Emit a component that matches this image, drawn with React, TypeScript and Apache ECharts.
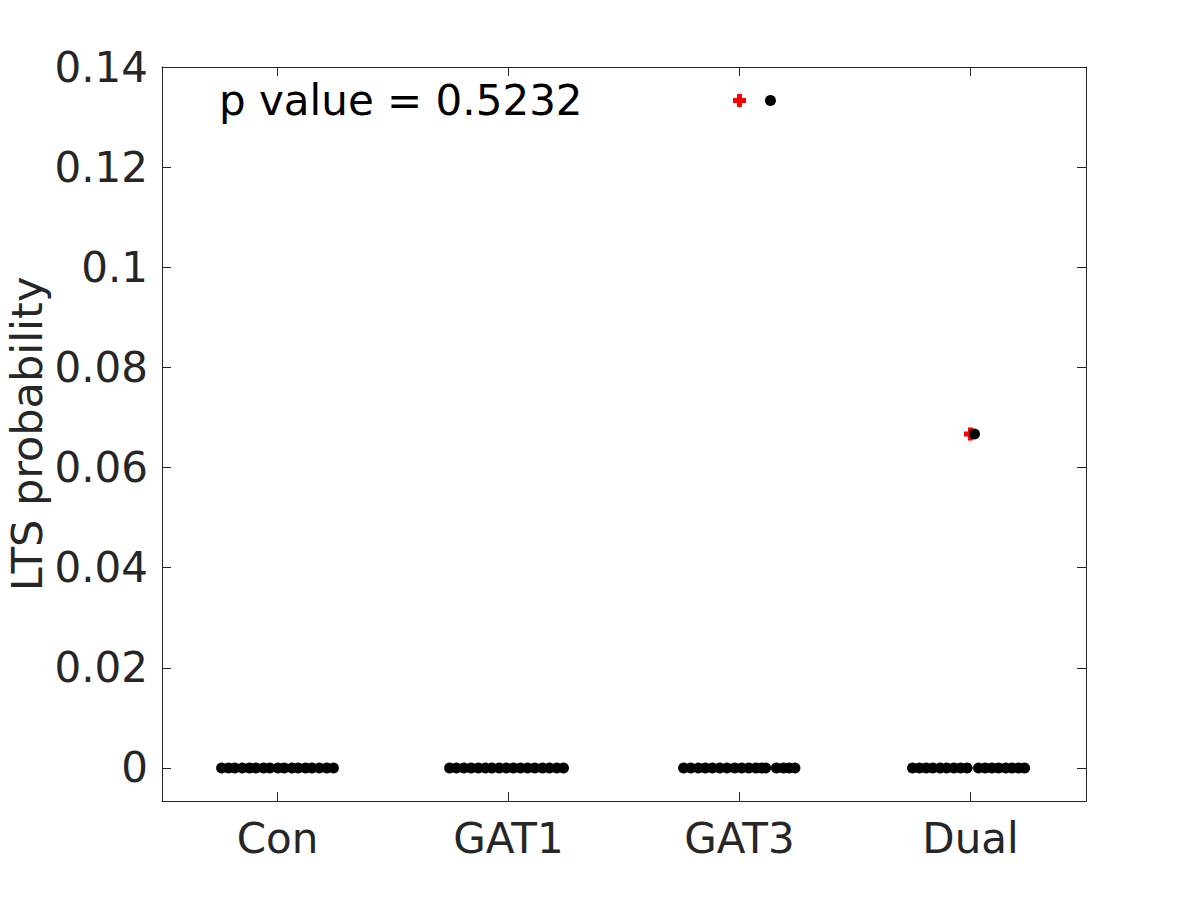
import React, { useEffect, useRef } from "react";
import * as echarts from "echarts";

const categories = ["Con", "GAT1", "GAT3", "Dual"];
const yTicks = [0, 0.02, 0.04, 0.06, 0.08, 0.1, 0.12, 0.14];
const pValueText = "p value = 0.5232";
const yAxisTitle = "LTS probability";

// jitter offsets (in category units) and values for each group
const conJitter = [-0.242, -0.212, -0.185, -0.152, -0.121, -0.094, -0.061, -0.033, 0.002, 0.029, 0.063, 0.09, 0.122, 0.149, 0.181, 0.213, 0.242];
const conValues = [0, 0, 0, 0, 0, 0, 0, 0, 0, 0, 0, 0, 0, 0, 0, 0, 0];
const gat1Jitter = [-0.255, -0.225, -0.193, -0.162, -0.131, -0.1, -0.072, -0.04, -0.009, 0.021, 0.052, 0.083, 0.114, 0.147, 0.177, 0.209, 0.238];
const gat1Values = [0, 0, 0, 0, 0, 0, 0, 0, 0, 0, 0, 0, 0, 0, 0, 0, 0];
const gat3Jitter = [-0.242, -0.211, -0.178, -0.148, -0.117, -0.085, -0.054, -0.021, 0.009, 0.04, 0.071, 0.096, 0.113, 0.134, 0.16, 0.19, 0.215, 0.24];
const gat3Values = [0, 0, 0, 0, 0, 0, 0, 0, 0, 0, 0, 0, 0, 0.1333, 0, 0, 0, 0];
const dualJitter = [-0.251, -0.221, -0.192, -0.163, -0.131, -0.103, -0.072, -0.043, -0.015, 0.017, 0.035, 0.064, 0.093, 0.121, 0.152, 0.18, 0.208, 0.234];
const dualValues = [0, 0, 0, 0, 0, 0, 0, 0, 0, 0.0667, 0, 0, 0, 0, 0, 0, 0, 0];

// boxplot outliers (red +)
const outlierGroups = [3, 4];
const outlierValues = [0.1333, 0.0667];
// box quartiles (all zero)
const boxQ = [0, 0, 0, 0];
const boxHalfWidth = 0.25;

const jitters = [conJitter, gat1Jitter, gat3Jitter, dualJitter];
const valuesList = [conValues, gat1Values, gat3Values, dualValues];

const AXIS_COLOR = "#262626";
const FONT = "DejaVu Sans";

export default function App() {
  const ref = useRef<HTMLDivElement>(null);
  useEffect(() => {
    if (!ref.current) return;
    const chart = echarts.init(ref.current, null, { renderer: "svg" });

    const dots: number[][] = [];
    jitters.forEach((jit, gi) => {
      jit.forEach((j, k) => dots.push([gi + 1 + j, valuesList[gi][k]]));
    });
    const outliers = outlierGroups.map((g, i) => [g, outlierValues[i]]);
    const boxSeries = boxQ.map((q, i) => ({
      type: "line",
      data: [
        [i + 1 - boxHalfWidth, q],
        [i + 1 + boxHalfWidth, q],
      ],
      symbol: "none",
      lineStyle: { color: "#0000ff", width: 1 },
      silent: true,
      z: 1,
    }));

    const xTickVals = categories.map((_, i) => i + 1);

    chart.setOption({
      animation: false,
      backgroundColor: "#ffffff",
      grid: { left: 162, right: 114, top: 67, bottom: 99, containLabel: false, outerBoundsMode: "none" },
      xAxis: [
        {
          type: "value",
          min: 0.5,
          max: 4.5,
          position: "bottom",
          axisLine: { show: true, onZero: false, lineStyle: { color: AXIS_COLOR, width: 1 } },
          axisTick: { show: true, inside: true, length: 9, customValues: xTickVals, lineStyle: { color: AXIS_COLOR } },
          axisLabel: {
            show: true,
            customValues: xTickVals,
            formatter: (v: number) => categories[Math.round(v) - 1] ?? "",
            color: AXIS_COLOR,
            fontSize: 42,
            fontFamily: FONT,
            margin: 16,
          },
          splitLine: { show: false },
        },
        {
          type: "value",
          min: 0.5,
          max: 4.5,
          position: "top",
          axisLine: { show: true, onZero: false, lineStyle: { color: AXIS_COLOR, width: 1 } },
          axisTick: { show: true, inside: true, length: 9, customValues: xTickVals, lineStyle: { color: AXIS_COLOR } },
          axisLabel: { show: false },
          splitLine: { show: false },
        },
      ],
      yAxis: [
        {
          type: "value",
          min: -0.0066,
          max: 0.14,
          position: "left",
          axisLine: { show: true, onZero: false, lineStyle: { color: AXIS_COLOR, width: 1 } },
          axisTick: { show: true, inside: true, length: 9, customValues: yTicks, lineStyle: { color: AXIS_COLOR } },
          axisLabel: {
            show: true,
            customValues: yTicks,
            formatter: (v: number) => String(v),
            color: AXIS_COLOR,
            fontSize: 42,
            fontFamily: FONT,
            margin: 14,
          },
          splitLine: { show: false },
        },
        {
          type: "value",
          min: -0.0066,
          max: 0.14,
          position: "right",
          axisLine: { show: true, onZero: false, lineStyle: { color: AXIS_COLOR, width: 1 } },
          axisTick: { show: true, inside: true, length: 9, customValues: yTicks, lineStyle: { color: AXIS_COLOR } },
          axisLabel: { show: false },
          splitLine: { show: false },
        },
      ],
      graphic: [
        {
          type: "text",
          left: 219,
          top: 79,
          style: { text: pValueText, fill: "#000000", fontSize: 42, fontFamily: FONT },
          z: 100,
        },
        {
          type: "text",
          x: 27,
          y: 434,
          rotation: Math.PI / 2,
          style: {
            text: yAxisTitle,
            fill: AXIS_COLOR,
            fontSize: 43,
            fontFamily: FONT,
            align: "center",
            verticalAlign: "middle",
          },
          z: 100,
        },
      ],
      series: [
        ...boxSeries,
        {
          type: "scatter",
          data: outliers,
          symbol: "path://M4,0H9V4H13V9H9V13H4V9H0V4H4Z",
          symbolSize: 13,
          itemStyle: { color: "#ff0000", opacity: 1 },
          z: 2,
        },
        {
          type: "scatter",
          data: dots,
          symbol: "circle",
          symbolSize: 11,
          itemStyle: { color: "#000000", opacity: 1 },
          z: 3,
        },
      ],
    });
    return () => chart.dispose();
  }, []);
  return <div ref={ref} style={{ width: 1200, height: 900, position: "absolute", left: 0, top: 0 }} />;
}
